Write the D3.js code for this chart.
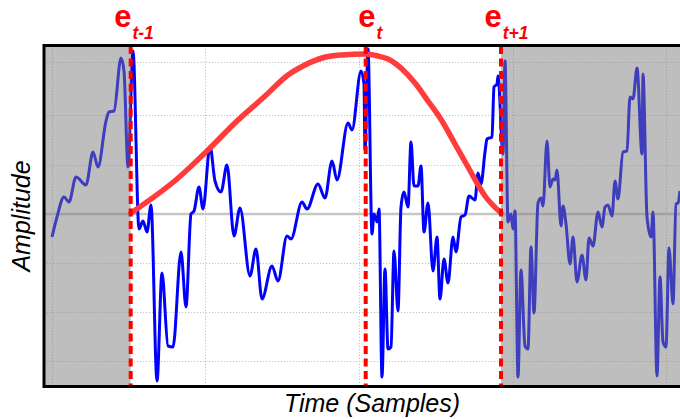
<!DOCTYPE html>
<html lang="en">
    <head>
        <meta charset="utf-8">
        <title>Frames</title>
        <script type="text/javascript" src="https://d3js.org/d3.v7.min.js"></script>

        <style type="text/css">
            body {
                margin: 0;
                background-color: white;
            }

            svg text {
                font-family: "Liberation Sans", Arial, Helvetica, sans-serif;
            }

            /* grid lines */
            .grid line {
                stroke: #c4c4c4;
                stroke-width: 1;
                stroke-dasharray: 1.2, 1.8;
            }

            .axis.title {
                font-size: 25px;
                font-style: italic;
                fill: black;
            }

            .event.label {
                fill: #ff0000;
                font-weight: bold;
            }
        </style>
    </head>

    <body>
        <svg width="680" height="419" id="svg1"></svg>

        <script type="text/javascript">

            // signal (sample index, amplitude)
            const signalX = [8, 13, 20, 25, 32, 42, 49, 54, 62, 65, 70, 77, 80, 84, 89,
                95, 99, 103, 107, 113, 118, 124, 129, 137, 142, 147, 150, 155, 159, 166,
                171, 177, 183, 190, 196, 206, 212, 218, 228, 234, 243, 247, 258, 263, 274,
                281, 288, 293, 304, 308, 317, 320, 321, 324, 328, 330, 333, 335, 338, 341,
                344, 347, 350, 354, 357, 360, 364, 367, 370, 374, 377, 380, 384, 389, 393,
                396, 400, 404, 409, 412, 417, 421, 425, 431, 434, 437, 441, 443, 448, 450,
                453, 454, 459, 461, 464, 467, 469, 471, 474, 477, 481, 484, 487, 490, 494,
                497, 499, 503, 506, 509, 511, 513, 517, 519, 522, 526, 529, 533, 538, 542,
                545, 549, 554, 558, 561, 564, 568, 571, 574, 579, 583, 586, 589, 593, 598,
                599, 603, 607, 609, 613, 616, 619, 622, 625, 629, 632, 634, 636];
            const signalY = [-23, -3, 17, 12, 37, 29, 62, 47, 93, 102, 103, 156, 143, 47, 163,
                -15, -7, -18, 9, -167, -59, -132, -133, -38, -93, 0, 3, 27, 5, 68,
                33, 22, 49, -22, 6, -62, -35, -85, -52, -67, -22, -25, 12, 5, 30,
                16, 53, 34, 91, 84, 143, 130, 64, 165, -20, 0, -8, 5, -163, -55,
                -135, -133, -37, -97, 7, 22, 7, 72, 28, 28, 48, -18, 11, -57, -23,
                -85, -45, -69, -23, -38, -3, -1, 18, 14, 41, 30, 62, 75, 77, 127,
                130, 138, 60, 153, -8, 0, -15, 3, -163, -56, -132, -135, -33, -99, 11,
                16, 8, 73, 27, 35, 34, 44, -12, 8, -10, -50, -23, -68, -41, -66,
                -24, -32, 2, -13, 7, 9, -2, 33, 15, 62, 63, 117, 115, 146, 60,
                140, -3, -23, 2, -162, -63, -128, -133, -34, -90, 10, 11, 23];

            // analysis window between e(t-1) and e(t+1)
            const windowX = [87, 133, 166, 193, 220, 244, 261, 278, 298, 321, 334,
                344, 358, 371, 384, 398, 411, 424, 441, 457];
            const windowY = [1, 35, 66, 93, 117, 139, 149, 156, 159, 160, 158,
                155, 145, 131, 113, 93, 70, 47, 18, 1];

            // event (epoch) positions and their subscripts
            const eventX = [86.7, 321.7, 457];
            const eventSub = ["t-1", "t", "t+1"];

            // grid tick values
            const xTicks = [8, 161, 315, 469, 622];
            const yTicks = [152, 99, 49, -49, -98, -147];

            const svg = d3.select("#svg1");
            const pLeft = 44, pTop = 46, pBottom = 386, pRight = 680;

            const xScale = d3.scaleLinear()
                            .domain([0, 636])
                            .range([pLeft, pRight]);

            const yScale = d3.scaleLinear()
                            .domain([-172, 168])
                            .range([pBottom, pTop]);

            // clip everything to the plot box
            svg.append("clipPath")
                .attr("id", "plotclip")
                .append("rect")
                .attr("x", pLeft)
                .attr("y", pTop)
                .attr("width", pRight - pLeft)
                .attr("height", pBottom - pTop);

            const plot = svg.append("g").attr("clip-path", "url(#plotclip)");

            // vertical grid
            plot.append("g")
                .attr("class", "grid")
                .attr("transform", `translate(0, ${pBottom})`)
                .call(d3.axisBottom(xScale).tickValues(xTicks).tickSize(-(pBottom - pTop)).tickFormat(""))
                .call(g => g.select(".domain").remove());

            // horizontal grid
            plot.append("g")
                .attr("class", "grid")
                .attr("transform", `translate(${pLeft}, 0)`)
                .call(d3.axisLeft(yScale).tickValues(yTicks).tickSize(-(pRight - pLeft)).tickFormat(""))
                .call(g => g.select(".domain").remove());

            // zero line
            plot.append("line")
                .attr("x1", pLeft)
                .attr("x2", pRight)
                .attr("y1", yScale(0))
                .attr("y2", yScale(0))
                .style("stroke", "#c6c6c6")
                .style("stroke-width", 2.5);

            // the signal
            const signal = d3.line()
                            .x((d, i) => xScale(signalX[i]))
                            .y(d => yScale(d))
                            .curve(d3.curveMonotoneX);

            plot.append("path")
                .datum(signalY)
                .attr("d", signal)
                .style("fill", "none")
                .style("stroke", "#0000ff")
                .style("stroke-width", 3)
                .style("stroke-linejoin", "round");

            // window curve
            const win = d3.line()
                            .x((d, i) => xScale(windowX[i]))
                            .y(d => yScale(d))
                            .curve(d3.curveMonotoneX);

            plot.append("path")
                .datum(windowY)
                .attr("d", win)
                .style("fill", "none")
                .style("stroke", "#ff3b3b")
                .style("stroke-width", 5.5)
                .style("stroke-linecap", "round");

            // grey shading outside the window
            const shade = [[0, eventX[0]], [eventX[2], 700]];
            plot.selectAll("rect.shade")
                .data(shade)
                .enter()
                .append("rect")
                .attr("class", "shade")
                .attr("x", d => xScale(d[0]))
                .attr("width", d => xScale(d[1]) - xScale(d[0]))
                .attr("y", pTop)
                .attr("height", pBottom - pTop)
                .style("fill", "#7e7e7e")
                .style("opacity", 0.5);

            // event markers
            plot.selectAll("line.event")
                .data(eventX)
                .enter()
                .append("line")
                .attr("class", "event")
                .attr("x1", d => xScale(d))
                .attr("x2", d => xScale(d))
                .attr("y1", pTop)
                .attr("y2", pBottom)
                .style("stroke", "#ff0000")
                .style("stroke-width", 4)
                .style("stroke-dasharray", "8,4.5");

            // frame (right edge runs off the page)
            svg.append("rect")
                .attr("x", pLeft)
                .attr("y", pTop - 0.5)
                .attr("width", 700)
                .attr("height", pBottom - pTop + 1)
                .style("fill", "none")
                .style("stroke", "black")
                .style("stroke-width", 3);

            // e labels
            const shift = [-16.5, -7.5, -16.5];
            const labels = svg.selectAll("text.event")
                .data(eventX)
                .enter()
                .append("text")
                .attr("class", "event label")
                .attr("x", (d, i) => xScale(d) + shift[i])
                .attr("y", 27);

            labels.append("tspan")
                .style("font-size", "31px")
                .text("e");

            labels.append("tspan")
                .attr("dy", 12)
                .attr("dx", 1)
                .style("font-size", "17.5px")
                .style("font-style", "italic")
                .text((d, i) => eventSub[i]);

            // axis titles
            svg.append("text")
                .attr("class", "axis title")
                .attr("text-anchor", "middle")
                .attr("x", 372)
                .attr("y", 412)
                .text("Time (Samples)");

            svg.append("text")
                .attr("class", "axis title")
                .attr("text-anchor", "middle")
                .attr("transform", "translate(30, 216) rotate(-90)")
                .text("Amplitude");

        </script>
    </body>
</html>
